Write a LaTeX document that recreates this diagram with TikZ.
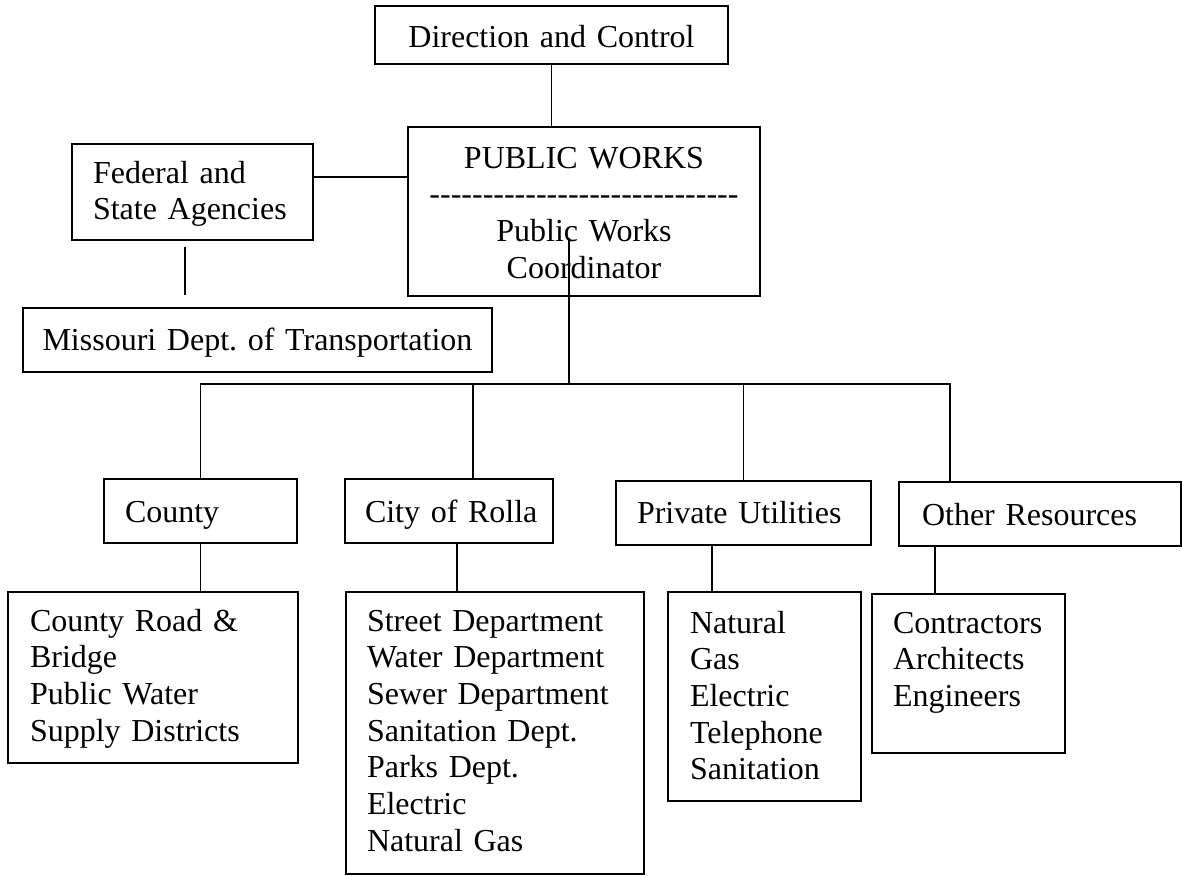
\documentclass[tikz,border=0pt]{standalone}
\usepackage{fontspec}
\setmainfont{Liberation Serif}

\tikzset{
  orgbox/.style={draw, line width=0.9pt, inner ysep=0pt, outer sep=0pt,
    anchor=north west, font=\fontsize{16}{18.35}\selectfont},
  link/.style={line width=0.9pt},
}

\begin{document}
\begin{tikzpicture}[x=0.5pt,y=-0.5pt]
\useasboundingbox (0,0) rectangle (1183,875);
% top level
\node[orgbox,text width=176.5pt,inner xsep=0pt,align=center,text height=20.5pt,text depth=8.5pt] (dir) at (375,6) {Direction and Control};
\node[orgbox,text width=176pt,inner xsep=0pt,align=center,text height=20.5pt,text depth=64pt] (pw) at (408,127)
  {PUBLIC WORKS\\ \foreach \k in {1,...,29}{-}\\ Public Works\\ Coordinator};
\node[orgbox,text width=99.5pt,inner xsep=10.5pt,align=left,text height=19.5pt,text depth=28.5pt] (fed) at (72,144) {Federal and\\ State Agencies};
\node[orgbox,text width=234.5pt,inner xsep=0pt,align=center,text height=21pt,text depth=11pt] (mo) at (23,308) {Missouri Dept.\ of Transportation};
% second level
\node[orgbox,text width=75.5pt,inner xsep=10.5pt,align=left,text height=21.5pt,text depth=10.5pt] (county) at (104,479) {County};
\node[orgbox,text width=84pt,inner xsep=10pt,align=left,text height=21.5pt,text depth=10.5pt] (city) at (345,479) {\mbox{City of Rolla}};
\node[orgbox,text width=106.5pt,inner xsep=10.5pt,align=left,text height=21pt,text depth=11pt] (priv) at (616,481) {Private Utilities};
\node[orgbox,text width=118pt,inner xsep=11.5pt,align=left,text height=21.5pt,text depth=10.5pt] (other) at (899,482) {Other Resources};
% third level
\node[orgbox,text width=123pt,inner xsep=11pt,align=left,text height=19.5pt,text depth=66pt] (road) at (8,592)
  {County Road \&\\ Bridge\\ Public Water\\ Supply Districts};
\node[orgbox,text width=128pt,inner xsep=10.5pt,align=left,text height=19.5pt,text depth=121.5pt] (street) at (346,592)
  {Street Department\\ Water Department\\ Sewer Department\\ Sanitation Dept.\\ Parks Dept.\\ Electric\\ Natural Gas};
\node[orgbox,text width=74.5pt,inner xsep=11pt,align=left,text height=20.5pt,text depth=84pt] (nat) at (668,592)
  {Natural\\ Gas\\ Electric\\ Telephone\\ Sanitation};
\node[orgbox,text width=75.5pt,inner xsep=10.5pt,align=left,text height=19.5pt,text depth=60pt] (con) at (872,594)
  {Contractors\\ Architects\\ Engineers};

% link points
\coordinate (busy) at (0,384);
\coordinate (hub) at (569,238);
\coordinate (stubtop) at (185,247);
\coordinate (stubend) at (185,295);
\path (fed.east) ++(0,-15) coordinate (fedlink);
\coordinate (citydrop) at ([xshift=12pt]city.north);
\coordinate (otherdrop) at ([xshift=-45pt]other.north);
\coordinate (citylow) at ([xshift=4pt]city.south);
\coordinate (privlow) at ([xshift=-15.75pt]priv.south);
\coordinate (otherlow) at ([xshift=-52.5pt]other.south);

\draw[link] (dir.south) -- (dir.south |- pw.north);
\draw[link] (fedlink) -- (fedlink -| pw.west);
\draw[link] (stubtop) -- (stubend);
\draw[link] (hub) -- (hub |- busy);
\draw[link] (county.north) |- (otherdrop |- busy) -- (otherdrop);
\draw[link] (citydrop) -- (citydrop |- busy);
\draw[link] (priv.north) -- (priv.north |- busy);
\draw[link] (county.south) -- (county.south |- road.north);
\draw[link] (citylow) -- (citylow |- street.north);
\draw[link] (privlow) -- (privlow |- nat.north);
\draw[link] (otherlow) -- (otherlow |- con.north);
\end{tikzpicture}
\end{document}
